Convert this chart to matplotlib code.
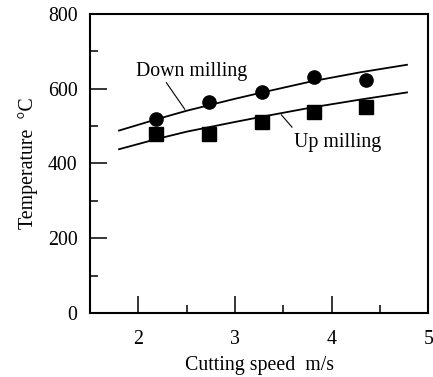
import matplotlib.pyplot as plt
from matplotlib.ticker import MultipleLocator

# --------------------------------------------------
# Data
# --------------------------------------------------

speed_pts = [2.18, 2.73, 3.28, 3.82, 4.36]
down_pts = [518, 565, 590, 632, 623]
up_pts = [478, 479, 511, 537, 552]

# fitted curves
curve_speed = [1.8, 2.2, 2.5, 3.0, 3.3, 3.8, 4.3, 4.78]
down_curve = [488, 519, 541, 573, 591, 620, 644, 664]
up_curve = [438, 466, 485, 511, 526, 550, 571, 590]

# labels with leader lines: text position, leader start, leader end
down_label = ("Down milling", (2.55, 645), (2.29, 616), (2.48, 545))
up_label = ("Up milling", (4.06, 457), (3.48, 530), (3.59, 497))

# --------------------------------------------------
# Figure
# --------------------------------------------------

plt.rcParams["font.family"] = ["Liberation Serif", "DejaVu Serif"]

fig = plt.figure(figsize=(4.33, 3.77), dpi=100)
ax = fig.add_axes([0.208, 0.170, 0.781, 0.793])

ax.plot(curve_speed, down_curve, color="black", lw=1.3)
ax.plot(curve_speed, up_curve, color="black", lw=1.3)

ax.plot(speed_pts, down_pts, "o", color="black", ms=9.5)
ax.plot(speed_pts, up_pts, "s", color="black", ms=9.5)

for text, txt_pos, p0, p1 in [down_label, up_label]:
    ax.text(txt_pos[0], txt_pos[1], text, ha="center", va="center", fontsize=14.3)
    ax.plot([p0[0], p1[0]], [p0[1], p1[1]], color="black", lw=0.8)

ax.set_xlim(1.5, 5)
ax.set_ylim(0, 800)
ax.xaxis.set_major_locator(MultipleLocator(1))
ax.xaxis.set_minor_locator(MultipleLocator(0.5))
ax.yaxis.set_major_locator(MultipleLocator(200))
ax.yaxis.set_minor_locator(MultipleLocator(100))

ax.tick_params(which="both", direction="in", top=False, right=False,
               labelsize=14.3, width=1.1)
ax.tick_params(which="major", length=12)
ax.tick_params(which="minor", length=6)
ax.tick_params(axis="y", pad=9)
ax.tick_params(axis="x", pad=12)

for s in ax.spines.values():
    s.set_linewidth(1.5)

ax.set_xlabel("Cutting speed  m/s", fontsize=14.3, labelpad=5)
ax.set_ylabel("Temperature  \u00b0C", fontsize=14.3, labelpad=7)

fig.savefig("out.png", dpi=100)
